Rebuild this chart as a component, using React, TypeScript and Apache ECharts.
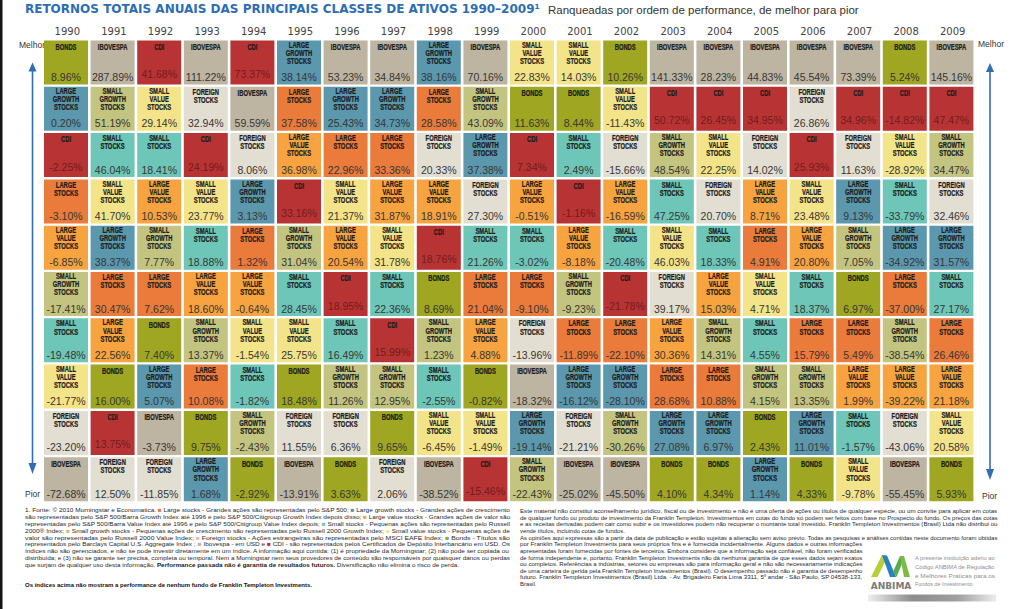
import React, { useEffect, useRef } from 'react';
import * as echarts from 'echarts';

const years = ['1990','1991','1992','1993','1994','1995','1996','1997','1998','1999','2000','2001','2002','2003','2004','2005','2006','2007','2008','2009'];
const rankLabels = ['1','2','3','4','5','6','7','8','9','10'];

const classCodes = ['LS','LG','LV','SS','SG','SV','FS','B','IB','CDI'];
const classLabels = ['LARGE\nSTOCKS','LARGE\nGROWTH\nSTOCKS','LARGE\nVALUE\nSTOCKS','SMALL\nSTOCKS','SMALL\nGROWTH\nSTOCKS','SMALL\nVALUE\nSTOCKS','FOREIGN\nSTOCKS','BONDS','IBOVESPA','CDI'];
const classColors = ['#ea7b3b','#5b97ad','#f7a33f','#6dc6b7','#c3c47f','#f4e489','#e3ded2','#9ea622','#bdb4a1','#b83434'];

// best -> worst, one array per year
const rankedClasses: string[][] = [
  ['B','LG','CDI','LS','LV','SG','SS','SV','FS','IB'],
  ['IB','SG','SS','SV','LG','LS','LV','B','CDI','FS'],
  ['CDI','SV','SS','LV','SG','LS','B','LG','IB','FS'],
  ['IB','FS','CDI','SV','SS','LV','SG','LS','B','LG'],
  ['CDI','IB','FS','LG','LS','LV','SV','SS','SG','B'],
  ['LG','LS','LV','CDI','SG','SS','SV','B','FS','IB'],
  ['IB','LG','LS','SV','LV','CDI','SS','SG','FS','B'],
  ['IB','LG','LS','LV','SV','SS','CDI','SG','B','FS'],
  ['LG','LS','FS','LV','CDI','B','SG','SS','SV','IB'],
  ['IB','SG','LG','FS','SS','LS','LV','B','SV','CDI'],
  ['SV','B','CDI','LV','SS','LS','FS','IB','LG','SG'],
  ['SV','B','SS','CDI','LV','SG','LS','LG','FS','IB'],
  ['B','SV','FS','LV','SS','CDI','LS','LG','SG','IB'],
  ['IB','CDI','SG','SS','SV','FS','LV','LS','LG','B'],
  ['IB','CDI','SV','FS','SS','LV','SG','LS','LG','B'],
  ['IB','CDI','FS','LV','LS','SV','SS','SG','B','LG'],
  ['IB','FS','CDI','SV','LV','SS','LS','SG','LG','B'],
  ['IB','CDI','FS','LG','SG','B','LS','LV','SS','SV'],
  ['B','CDI','SV','SS','LG','LS','SG','LV','FS','IB'],
  ['IB','CDI','SG','FS','LG','SS','LS','LV','SV','B'],
];

const rankedReturns: number[][] = [
  [8.96, 0.20, -2.25, -3.10, -6.85, -17.41, -19.48, -21.77, -23.20, -72.68],
  [287.89, 51.19, 46.04, 41.70, 38.37, 30.47, 22.56, 16.00, 13.75, 12.50],
  [41.68, 29.14, 18.41, 10.53, 7.77, 7.62, 7.40, 5.07, -3.73, -11.85],
  [111.22, 32.94, 24.19, 23.77, 18.88, 18.60, 13.37, 10.08, 9.75, 1.68],
  [73.37, 59.59, 8.06, 3.13, 1.32, -0.64, -1.54, -1.82, -2.43, -2.92],
  [38.14, 37.58, 36.98, 33.16, 31.04, 28.45, 25.75, 18.48, 11.55, -13.91],
  [53.23, 25.43, 22.96, 21.37, 20.54, 18.95, 16.49, 11.26, 6.36, 3.63],
  [34.84, 34.73, 33.36, 31.87, 31.78, 22.36, 15.99, 12.95, 9.65, 2.06],
  [38.16, 28.58, 20.33, 18.91, 18.76, 8.69, 1.23, -2.55, -6.45, -38.52],
  [70.16, 43.09, 37.38, 27.30, 21.26, 21.04, 4.88, -0.82, -1.49, -15.46],
  [22.83, 11.63, 7.34, -0.51, -3.02, -9.10, -13.96, -18.32, -19.14, -22.43],
  [14.03, 8.44, 2.49, -1.16, -8.18, -9.23, -11.89, -16.12, -21.21, -25.02],
  [10.26, -11.43, -15.66, -16.59, -20.48, -21.78, -22.10, -28.10, -30.26, -45.50],
  [141.33, 50.72, 48.54, 47.25, 46.03, 39.17, 30.36, 28.68, 27.08, 4.10],
  [28.23, 26.45, 22.25, 20.70, 18.33, 15.03, 14.31, 10.88, 6.97, 4.34],
  [44.83, 34.95, 14.02, 8.71, 4.91, 4.71, 4.55, 4.15, 2.43, 1.14],
  [45.54, 26.86, 25.93, 23.48, 20.80, 18.37, 15.79, 13.35, 11.01, 4.33],
  [73.39, 34.96, 11.63, 9.13, 7.05, 6.97, 5.49, 1.99, -1.57, -9.78],
  [5.24, -14.82, -28.92, -33.79, -34.92, -37.00, -38.54, -39.22, -43.06, -55.45],
  [145.16, 47.47, 34.47, 32.46, 31.57, 27.17, 26.46, 21.18, 20.58, 5.93],
];

const titleText = 'RETORNOS TOTAIS ANUAIS DAS PRINCIPAIS CLASSES DE ATIVOS 1990–2009¹';
const subtitleText = 'Ranqueadas por ordem de performance, de melhor para pior';

const footLeft = [
  '1. Fonte: © 2010 Morningstar e Economatica. {ls|■} Large stocks - Grandes ações são representadas pelo S&P 500; {lg|■} Large growth stocks - Grandes ações de crescimento',
  'são representadas pelo S&P 500/Barra Growth Index até 1996 e pelo S&P 500/Citigroup Growth Index depois disso; {lv|■} Large value stocks - Grandes ações de valor são',
  'representadas pelo S&P 500/Barra Value Index até 1996 e pelo S&P 500/Citigroup Value Index depois; {ss|■} Small stocks - Pequenas ações são representadas pelo Russell',
  '2000® Index; {sg|■} Small growth stocks - Pequenas ações de crescimento são representadas pelo Russell 2000 Growth Index; {sv|■} Small value stocks - Pequenas ações de',
  'valor são representadas pelo Russell 2000 Value Index; {fs|■} Foreign stocks - Ações estrangeiras são representadas pelo MSCI EAFE Index; {b|■} Bonds - Títulos são',
  'representados pelo Barclays Capital U.S. Aggregate Index ; {ib|■} Ibovespa - em USD e {cdi|■} CDI - são representados pelos Certificados de Depósito Interbancário em USD. Os',
  'índices não são gerenciados, e não se pode investir diretamente em um índice. A informação aqui contida: (1) é propriedade da Morningstar; (2) não pode ser copiada ou',
  'distribuída; e (3) não se garante ser precisa, completa ou temporal. Nem a Morningstar nem seus provedores de conteúdo são responsáveis por quaisquer danos ou perdas',
  'que surjam de qualquer uso desta informação. {bold|Performance passada não é garantia de resultados futuros.} Diversificação não elimina o risco de perda.',
];
const footLeftBold = 'Os índices acima não mostram a performance de nenhum fundo de Franklin Templeton Investments.';

const footRight = [
  'Este material não constitui aconselhamento jurídico, fiscal ou de investimento e não é uma oferta de ações ou títulos de qualquer espécie, ou um convite para aplicar em cotas',
  'de qualquer fundo ou produto de investimento da Franklin Templeton. Investimentos em cotas do fundo só podem ser feitos com base no Prospecto do fundo. Os preços das cotas',
  'e as receitas derivadas podem cair como subir e os investidores podem não recuperar o montante total investido. Franklin Templeton Investimentos (Brasil) Ltda não distribui ou',
  'vende títulos, incluindo cotas de fundos.',
  'As opiniões aqui expressas são a partir da data de publicação e estão sujeitas a alteração sem aviso prévio. Todas as pesquisas e análises contidas neste documento foram obtidas',
  'por Franklin Templeton Investments para seus próprios fins e é fornecida incidentalmente. Alguns dados e outras informações',
  'apresentadas foram fornecidas por fontes de terceiros. Embora considere que a informação seja confiável, não foram verificadas',
  'de forma independente e, portanto, Franklin Templeton Investments não dá nenhuma garantia de que esses dados sejam exatos',
  'ou completos. Referências a indústrias, setores ou empresas são para informação geral e não são necessariamente indicações',
  'de uma carteira de gerida pela Franklin Templeton Investimentos (Brasil). O desempenho passado não é garantia de desempenho',
  'futuro. Franklin Templeton Investimentos (Brasil) Ltda. - Av. Brigadeiro Faria Lima 3311, 5º andar - São Paulo, SP 04538-133,',
  'Brasil.',
];
const footRightWidths = [478, 478, 478, 0, 478, 343, 343, 343, 343, 343, 343, 0];

const anbimaLines = ['A presente instituição aderiu ao', 'Código ANBIMA de Regulação', 'e Melhores Práticas para os', 'Fundos de Investimento.'];

const FONT = '"Liberation Sans", Arial, Helvetica, sans-serif';

export default function App() {
  const ref = useRef<HTMLDivElement>(null);
  useEffect(() => {
    if (!ref.current) return;
    const chart = echarts.init(ref.current, undefined, { renderer: 'svg' });

    const ctx = document.createElement('canvas').getContext('2d') as CanvasRenderingContext2D;
    const measure = (t: string, size: number, weight = 'normal') => {
      ctx.font = `${weight} ${size}px "Liberation Sans", Arial, sans-serif`;
      return ctx.measureText(t.replace(/\{[a-z]+\|([^}]*)\}/g, '$1')).width;
    };

    const cells: number[][] = [];
    rankedClasses.forEach((col, yi) =>
      col.forEach((code, ri) => cells.push([yi, ri, classCodes.indexOf(code), rankedReturns[yi][ri]]))
    );

    const LS = 6.2;
    const sq = (color: string) => ({ fill: color, fontSize: LS, fontFamily: FONT });
    const sqRich: any = {
      ls: sq(classColors[0]), lg: sq(classColors[1]), lv: sq(classColors[2]),
      ss: sq(classColors[3]), sg: sq(classColors[4]), sv: sq(classColors[5]),
      fs: sq('#cfc8b6'), b: sq(classColors[7]), ib: sq(classColors[8]),
      cdi: sq(classColors[9]), bold: { fontWeight: 'bold', fill: '#1a1a1a', fontSize: LS, fontFamily: FONT },
    };

    const graphics: any[] = [];
    graphics.push({ type: 'rect', shape: { x: 0, y: 0, width: 2.5, height: 609 }, style: { fill: '#141414' } });
    graphics.push({ type: 'text', x: 25, y: 9, style: { text: titleText, fill: '#2c6db5', fontSize: 12, fontWeight: 'bold', fontFamily: '"DejaVu Sans", sans-serif', textVerticalAlign: 'middle' } });
    graphics.push({ type: 'text', x: 548, y: 9.5, style: { text: subtitleText, fill: '#333', fontSize: 11.5, fontFamily: FONT, textVerticalAlign: 'middle' } });
    const side = (t: string, x: number, y: number) => ({ type: 'text', x, y, style: { text: t, fill: '#333', fontSize: 8.5, fontFamily: FONT, textVerticalAlign: 'middle' } });
    graphics.push(side('Melhor', 19, 44.5), side('Pior', 25, 494), side('Melhor', 978, 44), side('Pior', 982, 496));
    const arrowColor = '#2f6db5';
    const arrow = (x: number, yTop: number, yBot: number) => [
      { type: 'line', shape: { x1: x, y1: yTop + 6, x2: x, y2: yBot - 6 }, style: { stroke: arrowColor, lineWidth: 1.6 } },
      { type: 'polygon', shape: { points: [[x, yTop], [x - 4, yTop + 9], [x + 4, yTop + 9]] }, style: { fill: arrowColor } },
      { type: 'polygon', shape: { points: [[x, yBot], [x - 4, yBot - 11], [x + 4, yBot - 11]] }, style: { fill: arrowColor } },
    ];
    graphics.push(...arrow(32.5, 62.5, 474), ...arrow(990, 63, 480));

    footLeft.forEach((ln, i) => {
      const natural = measure(ln, LS);
      const target = i < 8 ? 485 : natural * 1.02;
      graphics.push({ type: 'text', x: 25, y: 510 + i * 6.8, scaleX: target / natural,
        style: { text: ln, rich: sqRich, fill: '#2a2a2a', fontSize: LS, fontFamily: FONT, textVerticalAlign: 'middle' } });
    });
    graphics.push({ type: 'text', x: 25, y: 585, style: { text: footLeftBold, fill: '#111', fontSize: 6, fontWeight: 'bold', fontFamily: FONT, textVerticalAlign: 'middle' } });
    const RS = 5.9;
    footRight.forEach((ln, i) => {
      const natural = measure(ln, RS);
      const target = footRightWidths[i] || natural;
      graphics.push({ type: 'text', x: 520, y: 511 + i * 6.65, scaleX: target / natural,
        style: { text: ln, fill: '#2a2a2a', fontSize: RS, fontFamily: FONT, textVerticalAlign: 'middle' } });
    });
    graphics.push(
      { type: 'polygon', shape: { points: [[871, 577], [877.5, 577], [886, 560], [882, 555]] }, style: { fill: '#b8cf3a' } },
      { type: 'polygon', shape: { points: [[882, 555], [887, 555.5], [896, 577], [890, 577]] }, style: { fill: '#2a80c0' } },
      { type: 'polygon', shape: { points: [[893, 572], [896.5, 577], [903, 561], [900, 556]] }, style: { fill: '#56ad4c' } },
      { type: 'polygon', shape: { points: [[900, 556], [904, 556], [910, 577], [904, 577]] }, style: { fill: '#7dbb45' } },
      { type: 'text', x: 891, y: 585.5, style: { text: 'ANBIMA', fill: '#7b7b7b', fontSize: 9, fontWeight: 'bold', fontFamily: '"DejaVu Sans", sans-serif', textAlign: 'center', textVerticalAlign: 'middle' } },
      { type: 'rect', shape: { x: 868, y: 594.5, width: 128, height: 7 },
        style: { fill: new echarts.graphic.LinearGradient(0, 0, 1, 0, [
          { offset: 0, color: '#efefef' }, { offset: 0.35, color: '#8c8c8c' }, { offset: 0.7, color: '#a0a0a0' }, { offset: 1, color: '#ececec' }]) } },
    );
    anbimaLines.forEach((ln, i) => {
      const natural = measure(ln, 5.4);
      const target = i < 3 ? 80 : natural;
      graphics.push({ type: 'text', x: 915, y: 558.3 + i * 8.7, scaleX: target / natural,
        style: { text: ln, fill: '#8f8f8f', fontSize: 5.4, fontFamily: FONT, textVerticalAlign: 'middle' } });
    });

    const option: any = {
      animation: false,
      backgroundColor: '#ffffff',
      grid: { left: 44, top: 40.5, width: 932, height: 463, outerBoundsMode: 'none' },
      xAxis: {
        type: 'category', data: years, position: 'top',
        axisLine: { show: false }, axisTick: { show: false }, splitLine: { show: false },
        axisLabel: { margin: 4, fontSize: 10, fontFamily: '"DejaVu Sans", sans-serif', color: '#444' },
      },
      yAxis: { type: 'category', data: rankLabels, inverse: true, show: false },
      graphic: graphics,
      series: [{
        type: 'custom',
        encode: { x: 0, y: 1 },
        data: cells,
        renderItem: (params: any, api: any) => {
          const yi = api.value(0);
          const ri = api.value(1);
          const ci = api.value(2);
          const v = api.value(3);
          const c = api.coord([yi, ri]);
          const sz = api.size([1, 1]);
          const x0 = c[0] - sz[0] / 2;
          const y0 = c[1] - sz[1] / 2;
          const w = sz[0] - 2.6;
          const h = sz[1] - 2.3;
          const cx = x0 + w / 2;
          const lines = classLabels[ci].split('\n');
          const off = lines.length === 3 ? 4.8 : lines.length === 2 ? 5.8 : 7;
          const children: any[] = [
            { type: 'rect', shape: { x: x0, y: y0, width: w, height: h }, style: { fill: classColors[ci] } },
          ];
          lines.forEach((ln, i) => children.push({
            type: 'text', x: cx, y: y0 + off + i * 8.1, scaleX: 0.7,
            style: { text: ln, fill: '#1c1c1c', stroke: '#1c1c1c', lineWidth: 0.25, fontSize: 8.3, fontWeight: 'bold', fontFamily: FONT, textAlign: 'center', textVerticalAlign: 'middle' },
          }));
          const isCdi = classCodes[ci] === 'CDI';
          children.push({
            type: 'text', x: cx, y: y0 + h - 7.5 - (isCdi ? 3 : 0),
            style: { text: Number(v).toFixed(2) + '%', fill: isCdi ? '#731b1b' : '#363636', fontSize: 10.5, fontFamily: FONT, textAlign: 'center', textVerticalAlign: 'middle' },
          });
          return { type: 'group', children };
        },
      }],
    };
    chart.setOption(option);
    return () => chart.dispose();
  }, []);
  return <div ref={ref} style={{ position: 'absolute', left: 0, top: 0, width: 1023, height: 609 }} />;
}
